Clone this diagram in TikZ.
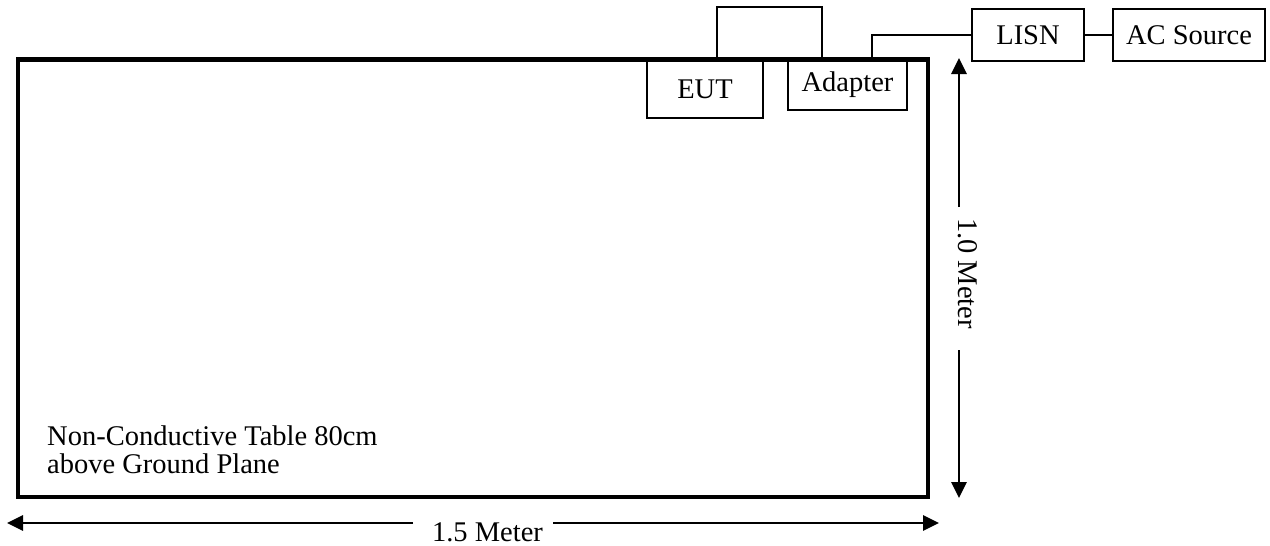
\documentclass[tikz,border=0pt]{standalone}
\usepackage{fontspec}
\setmainfont{Liberation Serif}
\usetikzlibrary{arrows.meta}
\tikzset{
  lbl/.style={font=\fontsize{28.5}{27.5}\selectfont},
  box/.style={draw, line width=1.6pt, inner sep=0pt, lbl},
  cable/.style={line width=1.5pt},
  dimarrow/.style={line width=2.8pt, -{Triangle[length=16pt,width=15pt]}},
}
\begin{document}
\begin{tikzpicture}[x=1pt,y=-1pt]
\useasboundingbox (0,0) rectangle (1270,546);
% table
\node[draw, line width=4.5pt, minimum width=910pt, minimum height=437.5pt, inner sep=0pt] (table) at (473,278.25) {};
\node[lbl, anchor=base west, align=left, inner sep=0pt] (tabletext) at (47,473) {Non-Conductive Table 80cm\\above Ground Plane};
% equipment
\node[box, minimum width=116pt, minimum height=58pt] (EUT) at (705,89) {EUT};
\node[box, minimum width=119pt, minimum height=50pt] (Adapter) at (847.5,85) {Adapter};
\node[box, minimum width=112pt, minimum height=52pt] (LISN) at (1028,35) {LISN};
\node[box, minimum width=152pt, minimum height=52pt] (AC) at (1189,35) {AC Source};
% cables
\draw[cable] ([xshift=12pt]EUT.north) -- ++(0,-52) -| ([xshift=-25.5pt]Adapter.north);
\draw[cable] ([xshift=24.5pt]Adapter.north) |- (LISN.west);
\draw[cable] (LISN) -- (AC);
% dimension 1.0 Meter
\coordinate (vtop) at (959,58);
\coordinate (vbot) at (959,498);
\coordinate (vgap1) at (959,207);
\coordinate (vgap2) at (959,350);
\node[lbl, rotate=-90, anchor=base, inner sep=0pt] (vlab) at (958,273.5) {1.0 Meter};
\draw[dimarrow] (vgap1) -- (vtop);
\draw[dimarrow] (vgap2) -- (vbot);
% dimension 1.5 Meter
\coordinate (hleft) at (7,523);
\coordinate (hright) at (939,523);
\coordinate (hgap1) at (413,523);
\coordinate (hgap2) at (553,523);
\node[lbl, anchor=base, inner sep=0pt] (hlab) at (487.5,541) {1.5 Meter};
\draw[dimarrow] (hgap1) -- (hleft);
\draw[dimarrow] (hgap2) -- (hright);
\end{tikzpicture}
\end{document}
